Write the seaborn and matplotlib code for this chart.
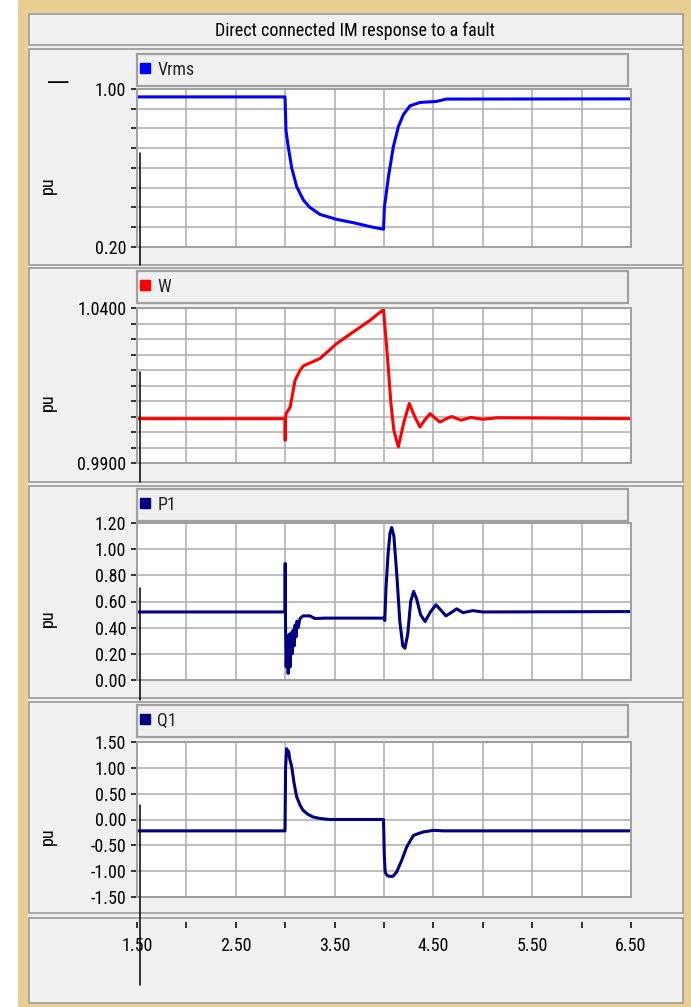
import numpy as np
import pandas as pd
import matplotlib
matplotlib.use("Agg")
import matplotlib.pyplot as plt
import seaborn as sns
from matplotlib import font_manager
from matplotlib.patches import Rectangle
from matplotlib.lines import Line2D

# ---------------- data ----------------
title = "Direct connected IM response to a fault"
x_ticks = [1.5, 2.0, 2.5, 3.0, 3.5, 4.0, 4.5, 5.0, 5.5, 6.0, 6.5]
x_tick_labels = ["1.50", "", "2.50", "", "3.50", "", "4.50", "", "5.50", "", "6.50"]

# RMS terminal voltage
t_vrms = [1.5, 2.998, 3.004, 3.008, 3.03, 3.066, 3.116, 3.184, 3.25, 3.352, 3.52,
          3.69, 3.86, 3.995, 4.004, 4.045, 4.095, 4.146, 4.196, 4.264, 4.365,
          4.53, 4.63, 6.5]
vrms = [0.96, 0.96, 0.86, 0.79, 0.71, 0.60, 0.506, 0.438, 0.40, 0.365, 0.34,
        0.323, 0.303, 0.29, 0.40, 0.556, 0.709, 0.81, 0.87, 0.915, 0.932,
        0.937, 0.949, 0.95]
vrms_ticks = [0.2, 0.3, 0.4, 0.5, 0.6, 0.7, 0.8, 0.9, 1.0]
vrms_tick_labels = ["0.20", "", "", "", "", "", "", "", "1.00"]

# Rotor speed
t_w = [1.5, 2.997, 3.0, 3.004, 3.01, 3.05, 3.1, 3.15, 3.183, 3.352, 3.52, 3.69,
       3.858, 3.995, 4.035, 4.07, 4.10, 4.145, 4.20, 4.256, 4.31, 4.364, 4.415,
       4.466, 4.517, 4.567, 4.625, 4.685, 4.78, 4.88, 5.0, 5.15, 6.5]
w = [1.0043, 1.0043, 0.9973, 1.0050, 1.0060, 1.0080, 1.0167, 1.0199, 1.0213,
     1.0237, 1.0285, 1.0323, 1.0360, 1.0395, 1.0242, 1.0092, 1.0005, 0.9952,
     1.0030, 1.0092, 1.0050, 1.0016, 1.0040, 1.0059, 1.0045, 1.0032, 1.0042,
     1.0050, 1.0038, 1.0047, 1.0041, 1.0046, 1.0043]
w_ticks = [0.990, 0.995, 1.000, 1.005, 1.010, 1.015, 1.020, 1.025, 1.030, 1.035, 1.040]
w_tick_labels = ["0.9900", "", "", "", "", "", "", "", "", "", "1.0400"]

# Active power
t_p1 = [1.5, 2.996, 2.998, 3.0, 3.003, 3.01, 3.02, 3.03, 3.04, 3.05, 3.06, 3.07,
        3.08, 3.09, 3.10, 3.11, 3.12, 3.13, 3.15, 3.18, 3.25, 3.30, 3.40, 4.0,
        4.008, 4.02, 4.04, 4.06, 4.078, 4.10, 4.13, 4.16, 4.19, 4.212, 4.24,
        4.27, 4.30, 4.33, 4.37, 4.415, 4.47, 4.526, 4.58, 4.627, 4.69, 4.735,
        4.80, 4.90, 5.0, 6.5]
p1 = [0.52, 0.52, 0.56, 0.89, 0.45, 0.10, 0.33, 0.05, 0.35, 0.10, 0.36, 0.20,
      0.38, 0.26, 0.42, 0.33, 0.45, 0.40, 0.47, 0.49, 0.49, 0.47, 0.473, 0.473,
      0.455, 0.70, 0.95, 1.12, 1.165, 1.10, 0.80, 0.45, 0.26, 0.243, 0.35,
      0.60, 0.677, 0.62, 0.50, 0.447, 0.52, 0.575, 0.53, 0.49, 0.52, 0.544,
      0.515, 0.53, 0.52, 0.523]
p1_ticks = [0.0, 0.2, 0.4, 0.6, 0.8, 1.0, 1.2]
p1_tick_labels = ["0.00", "0.20", "0.40", "0.60", "0.80", "1.00", "1.20"]

# Reactive power
t_q1 = [1.5, 2.998, 3.004, 3.015, 3.025, 3.035, 3.045, 3.066, 3.09, 3.116, 3.15,
        3.18, 3.23, 3.28, 3.35, 3.45, 3.995, 4.003, 4.012, 4.03, 4.05, 4.09,
        4.128, 4.179, 4.23, 4.297, 4.35, 4.40, 4.50, 4.60, 6.5]
q1 = [-0.22, -0.22, 1.0, 1.37, 1.28, 1.32, 1.18, 1.02, 0.70, 0.44, 0.28, 0.18,
      0.10, 0.05, 0.02, 0.0, 0.0, -0.70, -1.02, -1.08, -1.10, -1.10, -1.016,
      -0.79, -0.53, -0.31, -0.27, -0.24, -0.21, -0.22, -0.22]
q1_ticks = [-1.5, -1.0, -0.5, 0.0, 0.5, 1.0, 1.5]
q1_tick_labels = ["-1.50", "-1.00", "-0.50", "0.00", "0.50", "1.00", "1.50"]

# ---------------- styling ----------------
W_PX, H_PX, DPI = 691, 1007, 100
TAN = "#E8CF91"
PANEL = "#F0F0F0"
EDGE = "#A0A0A0"
GRID = "#ACACAC"

sns.set_theme(style="white")


def narrow_font():
    """Prefer a narrow sans face; fall back to the regular one."""
    entries = font_manager.fontManager.ttflist
    for fam in ["Liberation Sans Narrow", "Arial Narrow", "Roboto Condensed",
                "Open Sans Condensed", "Noto Sans Condensed"]:
        for f in entries:
            if f.name == fam and f.weight in (400, "normal", "regular") and f.style == "normal":
                return f.name, f.stretch, True
    for fam in ["Liberation Sans", "Roboto", "Noto Sans", "Open Sans", "DejaVu Sans"]:
        for f in entries:
            if (f.name == fam and f.style == "normal"
                    and str(f.stretch) in ("condensed", "semi-condensed", "500", "600", "700")
                    and f.weight in (400, "normal", "regular")):
                return f.name, f.stretch, True
    return "Liberation Sans", "normal", False


FONT, STRETCH, IS_NARROW = narrow_font()
FS = 13.0 if IS_NARROW else 11.8
plt.rcParams["font.family"] = [FONT, "Liberation Sans", "DejaVu Sans"]
plt.rcParams["font.stretch"] = STRETCH

fig = plt.figure(figsize=(W_PX / DPI, H_PX / DPI), dpi=DPI, facecolor="white")


def fx(px):
    return px / W_PX


def fy(py):
    return 1 - py / H_PX


def box(x0, y0, x1, y1, face, edge=None, lw=0.0, z=-10):
    fig.add_artist(Rectangle((fx(x0), fy(y1)), fx(x1) - fx(x0), fy(y0) - fy(y1),
                             transform=fig.transFigure, facecolor=face,
                             edgecolor=edge if edge else "none", linewidth=lw,
                             zorder=z))


# outer frame and panel boxes
box(18, 0, 691, 1007, TAN, z=-20)
box(28, 13, 683, 1003, PANEL, z=-15)
for (y0, y1) in [(14, 45), (49, 265), (268, 482), (486, 698), (702, 913), (918, 1003)]:
    box(28.5, y0, 683, y1, PANEL, EDGE, 1.3, z=-10)

fig.text(fx(355), fy(31), title, ha="center", va="center", fontsize=FS, color="black")

PLOT_X0, PLOT_X1 = 137, 631
panels = [
    dict(t=t_vrms, v=vrms, name="Vrms", color="#0000FF", y0=89, y1=247,
         lim=(0.2, 1.0), ticks=vrms_ticks, labels=vrms_tick_labels, leg=(53, 86)),
    dict(t=t_w, v=w, name="W", color="#FF0000", y0=308, y1=463,
         lim=(0.99, 1.04), ticks=w_ticks, labels=w_tick_labels, leg=(272, 303)),
    dict(t=t_p1, v=p1, name="P1", color="#000080", y0=523, y1=680,
         lim=(0.0, 1.2), ticks=p1_ticks, labels=p1_tick_labels, leg=(490, 521)),
    dict(t=t_q1, v=q1, name="Q1", color="#000080", y0=742, y1=897,
         lim=(-1.5, 1.5), ticks=q1_ticks, labels=q1_tick_labels, leg=(705, 737)),
]

for p in panels:
    ph = p["y1"] - p["y0"]
    ax = fig.add_axes([fx(PLOT_X0), fy(p["y1"]), fx(PLOT_X1) - fx(PLOT_X0), ph / H_PX])
    ax.set_facecolor("white")
    df = pd.DataFrame({"time": p["t"], "value": p["v"]})
    sns.lineplot(data=df, x="time", y="value", ax=ax, color=p["color"],
                 linewidth=2.2, sort=False, legend=False)
    ax.set_xlim(1.5, 6.5)
    ax.set_ylim(*p["lim"])
    ax.set_xticks(x_ticks)
    ax.set_yticks(p["ticks"])
    ax.set_yticklabels(p["labels"])
    ax.set_xlabel("")
    ax.set_ylabel("")
    ax.tick_params(axis="x", length=0, labelbottom=False)
    ax.tick_params(axis="y", length=4.3, width=1.1, color="black", pad=3.4,
                   labelsize=FS, labelcolor="black", direction="out", left=True)
    ax.grid(True, color=GRID, linewidth=1.1)
    for s in ax.spines.values():
        s.set_color(EDGE)
        s.set_linewidth(1.4)

    # legend box above the plot
    handle = Line2D([], [], marker="s", linestyle="none", color=p["color"],
                    markersize=6.5)
    leg_h_px = p["leg"][1] - p["leg"][0]
    leg = ax.legend([handle], [p["name"]], loc="lower left",
                    bbox_to_anchor=(0, 1 + (p["y0"] - p["leg"][1]) / ph,
                                    (628 - PLOT_X0) / (PLOT_X1 - PLOT_X0), leg_h_px / ph),
                    mode="expand", borderaxespad=0, frameon=True, fancybox=False,
                    edgecolor=EDGE, facecolor=PANEL, framealpha=1, fontsize=FS,
                    borderpad=0.4, handlelength=0.1, handletextpad=0.62)
    leg.get_frame().set_linewidth(1.6)

    # y-axis unit label
    fig.text(fx(48), fy((p["y0"] + p["y1"]) / 2 + 17), "pu", rotation=90,
             ha="center", va="center", fontsize=FS, color="black")

# glyph in the upper left of the first panel
fig.text(fx(57), fy(79), "|", rotation=90, ha="center", va="center",
         fontsize=FS * 1.3, color="black")

# shared time axis in the bottom panel
axx = fig.add_axes([fx(PLOT_X0), fy(922), fx(PLOT_X1) - fx(PLOT_X0), 0.5 / H_PX])
axx.set_xlim(1.5, 6.5)
axx.set_xticks(x_ticks)
axx.set_xticklabels(x_tick_labels)
axx.set_yticks([])
axx.patch.set_visible(False)
for s in axx.spines.values():
    s.set_visible(False)
axx.tick_params(axis="x", bottom=True, length=4.3, width=1.1, color="black",
                direction="out", pad=6.5, labelsize=FS, labelcolor="black")

# cursor marks crossing the panels
for (y0, y1) in [(153, 265), (372, 482), (588, 700), (805, 985)]:
    fig.add_artist(Line2D([fx(140), fx(140)], [fy(y0), fy(y1)],
                          transform=fig.transFigure, color="black",
                          linewidth=1.1, zorder=20))

fig.savefig("out.png", dpi=DPI, facecolor="white")
